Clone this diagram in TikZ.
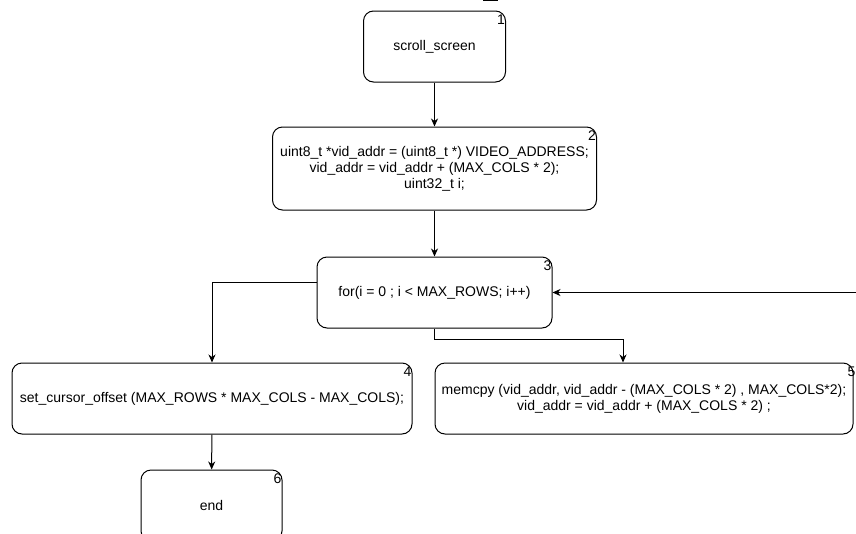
\documentclass[tikz,border=0pt]{standalone}
\usepackage{fontspec}
\setmainfont{Liberation Sans}
\usetikzlibrary{arrows.meta,calc}

\tikzset{
  stepbox/.style={draw=black, line width=1pt, rounded corners=10pt, align=center,
    inner sep=0pt, font=\fontsize{14}{16}\selectfont},
  num/.style={anchor=north east, inner sep=0pt, font=\fontsize{14}{16}\selectfont},
  flow/.style={draw=black, line width=1pt, -{Stealth[length=8pt,width=7pt,inset=2.5pt]}}
}

\begin{document}
\begin{tikzpicture}[x=1pt,y=-1pt]
  \clip (0,0) rectangle (856,533);
  \fill[white] (0,0) rectangle (856,533);

  % clipped caption fragment above the first block
  \draw[line width=1.3pt] (483,0.6) -- (498,0.6);

  % blocks
  \node[stepbox, minimum width=142pt, minimum height=71pt] (b1) at (434.5,46.5) {scroll\_screen};
  \node[stepbox, minimum width=324pt, minimum height=83pt] (b2) at (434.5,168.5)
    {uint8\_t *vid\_addr = (uint8\_t *) VIDEO\_ADDRESS;\\
     vid\_addr = vid\_addr + (MAX\_COLS * 2);\\
     uint32\_t i;};
  \node[stepbox, minimum width=235pt, minimum height=71pt] (b3) at (434.5,292.5)
    {for(i = 0 ; i < MAX\_ROWS; i++)};
  \node[stepbox, minimum width=400pt, minimum height=71pt] (b4) at (212,398.5)
    {set\_cursor\_offset (MAX\_ROWS * MAX\_COLS - MAX\_COLS);};
  \node[stepbox, minimum width=418pt, minimum height=71pt] (b5) at (644,398.5)
    {memcpy (vid\_addr, vid\_addr - (MAX\_COLS * 2) , MAX\_COLS*2);\\
     vid\_addr = vid\_addr + (MAX\_COLS * 2) ;};
  \node[stepbox, minimum width=141pt, minimum height=71pt] (b6) at (211.5,505.5) {end};

  % block numbers
  \node[num] (n1) at ([xshift=-1pt,yshift=-4.5pt]b1.north east) {1};
  \node[num] (n2) at ([xshift=-1pt,yshift=-4.5pt]b2.north east) {2};
  \node[num] (n3) at ([xshift=-1pt,yshift=-4.5pt]b3.north east) {3};
  \node[num] (n4) at ([xshift=-1pt,yshift=-4.5pt]b4.north east) {4};
  \node[num] (n5) at ([xshift=2pt,yshift=-4.5pt]b5.north east) {5};
  \node[num] (n6) at ([xshift=-1pt,yshift=-4.5pt]b6.north east) {6};

  % connectors
  \coordinate (loopin) at (856,292.5);
  \draw[flow] (b1) -- (b2);
  \draw[flow] (b2) -- (b3);
  \draw[flow] ([yshift=10.5pt]b3.west) -| (b4.north);
  \draw[flow] (b3.south) -- ++(0,11) -| ([xshift=-21pt]b5.north);
  \draw[flow] (loopin) -- (b3.east);
  \draw[flow] (b4) -- (b6);
\end{tikzpicture}
\end{document}
